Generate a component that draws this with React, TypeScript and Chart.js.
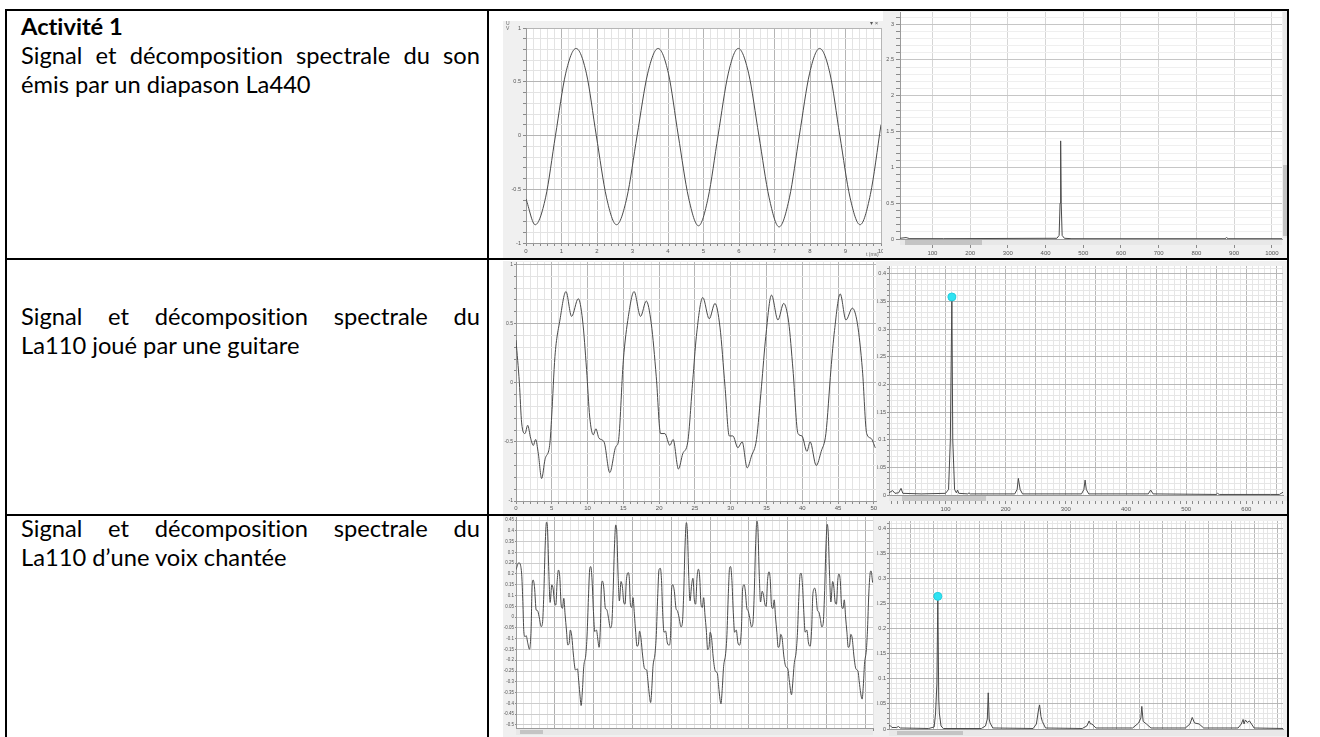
import React, { useEffect, useRef } from 'react';
import { Chart, registerables } from 'chart.js';
Chart.register(...registerables);

// ---------- Data ----------
// Row 1 : tuning fork La440, signal (t in ms, U in V)
const sineT = [0, 0.26, 0.55, 0.83, 1.12, 1.41, 1.7, 1.98, 2.27, 2.55, 2.84, 3.13, 3.43, 3.72, 4.01, 4.29, 4.58, 4.86, 5.13, 5.41, 5.7, 5.98, 6.27, 6.56, 6.85, 7.13, 7.42, 7.7, 7.99, 8.27, 8.56, 8.84, 9.13, 9.41, 9.7, 10.0];
const sineU = [-0.59, -0.83, -0.58, 0, 0.58, 0.81, 0.58, 0, -0.58, -0.83, -0.58, 0, 0.58, 0.81, 0.58, 0, -0.58, -0.84, -0.58, 0, 0.58, 0.81, 0.58, 0, -0.58, -0.85, -0.58, 0, 0.58, 0.81, 0.58, 0, -0.58, -0.83, -0.55, 0.1];
// Row 1 : spectrum (f in Hz, amplitude)
const fork440F = [14, 30, 40, 130, 430, 436, 438.5, 440, 441.5, 444, 450, 470, 876, 880, 884, 1027];
const fork440A = [0.01, 0.02, 0.005, 0.005, 0.01, 0.05, 0.5, 1.37, 0.5, 0.05, 0.01, 0.004, 0.004, 0.02, 0.004, 0.004];

// Row 2 : guitar La110, signal
const guitarT = [0, 0.47, 0.79, 1.26, 1.63, 2.05, 2.42, 2.74, 3.12, 3.58, 4.05, 4.74, 4.98, 5.44, 6.14, 6.98, 7.77, 8.7, 9.3, 9.86, 10.3, 10.8, 11.16, 11.6, 12.3, 13.1, 13.95, 14.3, 15.0, 15.7, 16.5, 17.4, 18.2, 18.9, 19.6, 20.2, 20.8, 21.5, 21.95, 22.7, 23.3, 24.0, 24.7, 25.2, 26.1, 27.0, 27.8, 28.5, 29.2, 29.8, 30.3, 31.0, 31.6, 32.3, 32.9, 33.6, 34.3, 34.9, 35.7, 36.6, 37.4, 38.1, 38.7, 39.4, 39.95, 40.65, 41.1, 41.95, 42.65, 43.3, 44.0, 44.5, 45.3, 46.1, 47.0, 47.7, 48.4, 49.0, 49.6, 50.2];
const guitarU = [0.36, 0, -0.34, -0.43, -0.36, -0.47, -0.53, -0.48, -0.6, -0.81, -0.65, -0.51, -0.29, 0.22, 0.53, 0.77, 0.56, 0.71, 0.53, 0.11, -0.29, -0.44, -0.39, -0.47, -0.5, -0.76, -0.54, -0.5, 0.19, 0.56, 0.77, 0.56, 0.69, 0.5, 0.05, -0.43, -0.43, -0.53, -0.48, -0.73, -0.6, -0.5, 0.02, 0.39, 0.72, 0.54, 0.67, 0.47, -0.03, -0.45, -0.45, -0.55, -0.5, -0.72, -0.62, -0.48, -0.03, 0.39, 0.74, 0.53, 0.67, 0.51, 0.11, -0.43, -0.45, -0.58, -0.5, -0.7, -0.58, -0.43, 0.11, 0.44, 0.75, 0.53, 0.63, 0.5, 0.11, -0.43, -0.47, -0.55];
// Row 2 : spectrum
const guitarF = [6, 12, 16, 22, 26, 29, 60, 100, 105, 108, 110.5, 112, 115, 118, 120, 122, 137, 139, 141, 215, 219, 221, 222, 224, 228, 326, 330, 332, 334, 338, 437, 441, 445, 550, 552, 555, 640, 655, 661];
const guitarA = [0.004, 0.008, 0.003, 0.004, 0.012, 0.003, 0.002, 0.003, 0.01, 0.1, 0.358, 0.1, 0.01, 0.004, 0.009, 0.003, 0.002, 0.004, 0.002, 0.002, 0.01, 0.03, 0.03, 0.01, 0.002, 0.002, 0.01, 0.027, 0.01, 0.002, 0.002, 0.009, 0.002, 0.001, 0.003, 0.001, 0.001, 0.001, 0.005];
const guitarPeakF = [110.5];
const guitarPeakA = [0.358];

// Row 3 : sung voice La110, signal
const voiceT = [0, 0.36, 0.58, 0.75, 0.88, 1.01, 1.18, 1.31, 1.52, 1.74, 1.95, 2.08, 2.21, 2.38, 2.6, 2.77, 2.98, 3.24, 3.41, 3.58, 3.76, 3.93, 4.06, 4.23, 4.4, 4.61, 4.79, 4.96, 5.13, 5.3, 5.47, 5.64, 5.82, 5.99, 6.16, 6.33, 6.5, 6.67, 6.85, 7.0, 7.19, 7.4, 7.66, 7.92, 8.09, 8.26, 8.39, 8.56, 8.73, 8.99, 9.16, 9.33, 9.51, 9.63, 9.8, 9.98, 10.15, 10.36, 10.58,
  10.7, 10.87, 11.0, 11.13, 11.3, 11.52, 11.69, 11.9, 12.16, 12.33, 12.5, 12.68, 12.85, 12.98, 13.15, 13.32, 13.53, 13.71, 13.88, 14.05, 14.22, 14.45, 14.6, 14.74, 14.91, 15.08, 15.25, 15.42, 15.59, 15.77, 15.92, 16.11, 16.32, 16.58, 16.84, 17.01, 17.18, 17.35, 17.5, 17.65, 17.91, 18.08, 18.25, 18.43, 18.6, 18.75, 18.9, 19.07, 19.28, 19.5, 19.75,
  19.95, 20.05, 20.2, 20.4, 20.62, 20.79, 21.0, 21.26, 21.43, 21.6, 21.78, 21.95, 22.08, 22.25, 22.42, 22.63, 22.8, 22.98, 23.15, 23.32, 23.5, 23.66, 23.84, 24.01, 24.18, 24.35, 24.52, 24.69, 24.87, 25.02, 25.21, 25.42, 25.68, 25.94, 26.11, 26.28, 26.41, 26.58, 26.75, 27.01, 27.18, 27.35, 27.53, 27.65, 27.82, 28.0, 28.17, 28.38, 28.6, 28.81,
  29.05, 29.2, 29.4, 29.55, 29.75, 29.9, 30.1, 30.35, 30.52, 30.69, 30.87, 31.04, 31.17, 31.34, 31.51, 31.72, 31.9, 32.07, 32.24, 32.41, 32.6, 32.75, 32.93, 33.1, 33.27, 33.44, 33.61, 33.78, 33.96, 34.11, 34.3, 34.51, 34.77, 35.03, 35.2, 35.37, 35.5, 35.67, 35.84, 36.1, 36.27, 36.44, 36.62, 36.74, 36.91, 37.09, 37.26, 37.47, 37.69, 37.9,
  38.1, 38.26, 38.5, 38.64, 38.85, 39.0, 39.2, 39.4, 39.58, 39.75, 39.93, 40.1, 40.23, 40.4, 40.57, 40.8, 40.95, 41.12, 41.29, 41.46, 41.6, 41.78, 41.96, 42.13, 42.3, 42.47, 42.64, 42.81, 42.99, 43.14, 43.33, 43.54, 43.8, 44.06, 44.23, 44.4, 44.6, 44.75, 44.9, 45.15, 45.3, 45.45, 45.62, 45.75, 45.95];
const voiceU = [0.22, 0.252, 0.241, 0.187, 0.072, -0.067, -0.091, -0.086, -0.121, -0.149, -0.052, 0.149, 0.172, 0.141, 0.033, 0.03, 0.002, -0.044, -0.029, 0.102, 0.334, 0.44, 0.411, 0.21, 0.068, 0.149, 0.13, 0.068, 0.056, 0.164, 0.218, 0.187, 0.056, 0.041, 0.087, 0.01, -0.06, -0.129, -0.121, -0.06, -0.09, -0.176, -0.245, -0.24, -0.3, -0.369, -0.41, -0.338, -0.23, -0.176, -0.083, 0.087, 0.226, 0.234, 0.172, 0.025, -0.067, -0.06, -0.114,
  -0.14, -0.05, 0.14, 0.167, 0.14, 0.04, 0.035, 0.0, -0.05, -0.035, 0.1, 0.32, 0.427, 0.4, 0.2, 0.075, 0.165, 0.14, 0.07, 0.06, 0.17, 0.206, 0.18, 0.06, 0.045, 0.09, 0.015, -0.07, -0.135, -0.125, -0.065, -0.1, -0.18, -0.24, -0.245, -0.3, -0.36, -0.396, -0.33, -0.23, -0.17, -0.08, 0.09, 0.22, 0.226, 0.17, 0.02, -0.07, -0.065, -0.12, -0.13,
  -0.05, 0.13, 0.15, 0.12, 0.04, 0.03, 0.0, -0.045, -0.03, 0.1, 0.33, 0.438, 0.4, 0.2, 0.075, 0.15, 0.18, 0.08, 0.06, 0.18, 0.222, 0.19, 0.06, 0.045, 0.09, 0.01, -0.06, -0.15, -0.14, -0.07, -0.1, -0.19, -0.25, -0.26, -0.32, -0.38, -0.402, -0.33, -0.23, -0.17, -0.08, 0.1, 0.23, 0.234, 0.17, 0.02, -0.07, -0.06, -0.12, -0.13,
  -0.05, 0.13, 0.15, 0.12, 0.04, 0.03, 0.0, -0.045, -0.03, 0.1, 0.33, 0.445, 0.41, 0.2, 0.07, 0.12, 0.1, 0.06, 0.05, 0.17, 0.21, 0.18, 0.05, 0.04, 0.08, 0.0, -0.07, -0.14, -0.13, -0.08, -0.1, -0.18, -0.23, -0.24, -0.29, -0.34, -0.36, -0.3, -0.22, -0.16, -0.07, 0.09, 0.2, 0.203, 0.15, 0.02, -0.07, -0.06, -0.12, -0.135,
  -0.05, 0.11, 0.134, 0.11, 0.03, 0.025, -0.005, -0.045, -0.03, 0.1, 0.32, 0.43, 0.39, 0.2, 0.07, 0.165, 0.14, 0.07, 0.06, 0.17, 0.2, 0.17, 0.05, 0.04, 0.08, 0.0, -0.07, -0.14, -0.13, -0.08, -0.1, -0.18, -0.24, -0.25, -0.3, -0.35, -0.38, -0.32, -0.22, -0.15, -0.05, 0.1, 0.2, 0.214, 0.16];
// Row 3 : spectrum
const voiceF = [3.5, 6, 10, 20, 24, 28, 90, 102, 105, 108, 110, 112, 113.5, 117, 122, 205, 214, 218, 220, 222, 224, 230, 318, 325, 330, 332, 335, 338, 345, 425, 435, 440, 443, 446, 455, 535, 548, 553, 555, 558, 565, 575, 650, 660, 665, 670, 680, 690, 765, 772, 776, 778, 781, 785, 790, 800, 863];
const voiceA = [0.006, 0.007, 0.003, 0.003, 0.005, 0.002, 0.001, 0.004, 0.03, 0.09, 0.264, 0.06, 0.03, 0.006, 0.001, 0.001, 0.006, 0.02, 0.072, 0.02, 0.012, 0.002, 0.001, 0.01, 0.04, 0.048, 0.025, 0.015, 0.002, 0.001, 0.006, 0.016, 0.01, 0.01, 0.002, 0.002, 0.012, 0.022, 0.045, 0.015, 0.01, 0.002, 0.002, 0.01, 0.023, 0.012, 0.01, 0.002, 0.002, 0.01, 0.019, 0.01, 0.018, 0.013, 0.016, 0.002, 0.001];
const voicePeakF = [110];
const voicePeakA = [0.264];

// Texts
const rowTexts = [
  { title: 'Activité 1', lines: ['Signal et décomposition spectrale du son', 'émis par un diapason La440'] },
  { title: '', lines: ['Signal et décomposition spectrale du', 'La110 joué par une guitare'] },
  { title: '', lines: ['Signal et décomposition spectrale du', 'La110 d\u2019une voix chantée'] },
];

// ---------- helpers ----------
const zip = (xs: number[], ys: number[]) => xs.map((x, i) => ({ x, y: ys[i] }));
const isMult = (v: number, m: number) => Math.abs(v / m - Math.round(v / m)) < 1e-6;
const fmt = (v: number) => String(Number(v.toFixed(3)));
const TICK_FONT = "'Liberation Sans', Arial, sans-serif";

type Axis = { min: number; max: number; step: number; major: number; label: number | null; minorC: string; majorC: string; tickLen: number; pad: number; fs: number };
type Spec = {
  box: { x: number; y: number; w: number; h: number };
  plot: { l: number; t: number; r: number; b: number };
  x: Axis; y: Axis;
  data: { x: number; y: number }[];
  smooth: boolean;
  marker?: { x: number; y: number }[];
};

const specs: Spec[] = [
  { // A: La440 signal
    box: { x: 503, y: 21, w: 380, h: 237 }, plot: { l: 526, t: 28, r: 881, b: 243 },
    x: { min: 0, max: 10, step: 0.2, major: 1, label: 1, minorC: '#e3e3e3', majorC: '#b5b5b5', tickLen: 3, pad: 2, fs: 6 },
    y: { min: -1, max: 1, step: 0.1, major: 0.5, label: 0.5, minorC: '#e3e3e3', majorC: '#b5b5b5', tickLen: 3, pad: 2, fs: 5.5 },
    data: zip(sineT, sineU), smooth: true,
  },
  { // B: La440 spectrum
    box: { x: 883, y: 11, w: 405, h: 248 }, plot: { l: 900, t: 12, r: 1282, b: 239 },
    x: { min: 14, max: 1027, step: 100, major: 100, label: 100, minorC: '#d6d6d6', majorC: '#d6d6d6', tickLen: 9, pad: 2, fs: 6 },
    y: { min: 0, max: 3.17, step: 0.1, major: 0.5, label: 0.5, minorC: '#efefef', majorC: '#c6c6c6', tickLen: 4, pad: 2, fs: 5.5 },
    data: zip(fork440F, fork440A), smooth: false,
  },
  { // C: guitar signal
    box: { x: 503, y: 261, w: 374, h: 253 }, plot: { l: 516, t: 262, r: 876, b: 501 },
    x: { min: 0, max: 50.3, step: 1, major: 5, label: 5, minorC: '#e3e3e3', majorC: '#b5b5b5', tickLen: 3, pad: 1, fs: 6 },
    y: { min: -1, max: 1.02, step: 0.1, major: 0.5, label: 0.5, minorC: '#e3e3e3', majorC: '#b5b5b5', tickLen: 2, pad: 1, fs: 5 },
    data: zip(guitarT, guitarU), smooth: true,
  },
  { // D: guitar spectrum
    box: { x: 877, y: 261, w: 411, h: 253 }, plot: { l: 889, t: 261, r: 1287, b: 495 },
    x: { min: 6, max: 661, step: 10, major: 50, label: 100, minorC: '#e6e6e6', majorC: '#b8b8b8', tickLen: 9, pad: 2, fs: 6 },
    y: { min: 0, max: 0.414, step: 0.01, major: 0.05, label: 0.05, minorC: '#e6e6e6', majorC: '#b8b8b8', tickLen: 2, pad: 1, fs: 5.5 },
    data: zip(guitarF, guitarA), smooth: false, marker: zip(guitarPeakF, guitarPeakA),
  },
  { // E: voice signal
    box: { x: 503, y: 516, w: 374, h: 221 }, plot: { l: 516, t: 517, r: 873, b: 728 },
    x: { min: 0, max: 46, step: 1, major: 5, label: null, minorC: '#e3e3e3', majorC: '#b0b0b0', tickLen: 3, pad: 1, fs: 5 },
    y: { min: -0.514, max: 0.464, step: 0.05, major: 0.05, label: 0.05, minorC: '#cdcdcd', majorC: '#cdcdcd', tickLen: 1, pad: 1, fs: 4.5 },
    data: zip(voiceT, voiceU), smooth: true,
  },
  { // F: voice spectrum
    box: { x: 877, y: 516, w: 411, h: 221 }, plot: { l: 889, t: 516, r: 1287, b: 729 },
    x: { min: 3.5, max: 863, step: 10, major: 50, label: null, minorC: '#e6e6e6', majorC: '#b8b8b8', tickLen: 3, pad: 1, fs: 5 },
    y: { min: 0, max: 0.414, step: 0.01, major: 0.05, label: 0.05, minorC: '#e6e6e6', majorC: '#b8b8b8', tickLen: 2, pad: 1, fs: 5.5 },
    data: zip(voiceF, voiceA), smooth: false, marker: zip(voicePeakF, voicePeakA),
  },
];

const plotBg = {
  id: 'plotBg',
  beforeDraw(chart: any) {
    const { ctx, chartArea } = chart;
    if (!chartArea) return;
    ctx.save();
    ctx.fillStyle = '#ffffff';
    ctx.fillRect(chartArea.left, chartArea.top, chartArea.right - chartArea.left, chartArea.bottom - chartArea.top);
    ctx.restore();
  },
};

function axisOpts(a: Axis, isX: boolean, s: Spec): any {
  return {
    type: 'linear',
    min: a.min,
    max: a.max,
    ticks: {
      stepSize: a.step,
      includeBounds: false,
      autoSkip: false,
      maxRotation: 0,
      minRotation: 0,
      padding: a.pad,
      color: '#555',
      font: { size: a.fs, family: TICK_FONT },
      callback: (v: number) => (a.label !== null && isMult(v, a.label) ? fmt(v) : ''),
    },
    grid: {
      color: (c: any) => (c.tick && isMult(c.tick.value, a.major) ? a.majorC : a.minorC),
      tickColor: '#8a8a8a',
      tickLength: a.tickLen,
      lineWidth: 1,
    },
    border: { display: true, color: '#9a9a9a' },
    afterFit: (sc: any) => {
      if (isX) {
        sc.height = s.box.y + s.box.h - s.plot.b;
        sc.paddingLeft = 0;
        sc.paddingRight = 0;
      } else {
        sc.width = s.plot.l - s.box.x;
        sc.paddingTop = 0;
        sc.paddingBottom = 0;
      }
    },
  };
}

function buildChart(canvas: HTMLCanvasElement, s: Spec) {
  const datasets: any[] = [
    {
      data: s.data,
      showLine: true,
      borderColor: '#4a4a4a',
      borderWidth: 1,
      pointRadius: 0,
      tension: s.smooth ? 0.4 : 0,
      cubicInterpolationMode: s.smooth ? 'monotone' : 'default',
      fill: false,
    },
  ];
  if (s.marker) {
    datasets.unshift({
      data: s.marker,
      showLine: false,
      pointRadius: 4,
      pointBackgroundColor: '#2fe3f2',
      pointBorderColor: '#22cfe0',
      pointBorderWidth: 1,
    });
  }
  return new Chart(canvas, {
    type: 'scatter',
    data: { datasets },
    options: {
      responsive: false,
      animation: false,
      events: [],
      layout: { padding: { left: 0, top: s.plot.t - s.box.y, right: s.box.x + s.box.w - s.plot.r, bottom: 0 } },
      plugins: { legend: { display: false }, tooltip: { enabled: false } },
      scales: { x: axisOpts(s.x, true, s), y: axisOpts(s.y, false, s) },
    } as any,
    plugins: [plotBg],
  });
}

const LEFT = 21;
const TEXT_W = 459;
const FS = 23.7;
const LH = 29;
// first-baseline of each row minus the font ascent
const rowTops = [12.3, 302.3, 514.3];

const abs = (l: number, t: number, w: number, h: number, bg: string): React.CSSProperties => ({ position: 'absolute', left: l, top: t, width: w, height: h, background: bg });

export default function App() {
  const refs = useRef<(HTMLCanvasElement | null)[]>([]);
  useEffect(() => {
    const charts = specs.map((s, i) => buildChart(refs.current[i] as HTMLCanvasElement, s));
    return () => charts.forEach((c) => c.destroy());
  }, []);

  const lineStyle = (justify: boolean): React.CSSProperties => ({
    height: LH,
    lineHeight: LH + 'px',
    whiteSpace: 'nowrap',
    display: justify ? 'flex' : 'block',
    justifyContent: 'space-between',
    width: TEXT_W,
  });

  return (
    <div style={{ position: 'fixed', left: 0, top: 0, width: 1320, height: 737, overflow: 'hidden', background: '#fff', fontFamily: "Lato, 'Open Sans', sans-serif", fontSize: FS, color: '#000', fontVariantLigatures: 'none', fontFeatureSettings: '"liga" 0, "clig" 0' }}>
      {/* left column texts */}
      {rowTexts.map((r, i) => {
        const lines: React.ReactNode[] = [];
        if (r.title) lines.push(<div key="t" style={{ ...lineStyle(false), fontWeight: 700 }}>{r.title}</div>);
        r.lines.forEach((ln, j) => {
          const justify = j === 0;
          lines.push(
            <div key={j} style={lineStyle(justify)}>
              {justify ? ln.split(' ').map((w, k) => <span key={k}>{w}</span>) : ln}
            </div>
          );
        });
        return (
          <div key={i} style={{ position: 'absolute', left: LEFT, top: rowTops[i], width: TEXT_W }}>
            {lines}
          </div>
        );
      })}

      {/* charts */}
      {specs.map((s, i) => (
        <div key={i} style={abs(s.box.x, s.box.y, s.box.w, s.box.h, '#f0f0f0')}>
          <canvas
            ref={(el) => { refs.current[i] = el; }}
            width={s.box.w}
            height={s.box.h}
            style={{ display: 'block', width: s.box.w, height: s.box.h }}
          />
        </div>
      ))}

      {/* chart decorations */}
      <div style={{ position: 'absolute', left: 506, top: 21, fontSize: 5, lineHeight: '5px', color: '#666', fontFamily: TICK_FONT }}>U<br />V</div>
      <div style={{ position: 'absolute', left: 870, top: 20, fontSize: 6, lineHeight: '6px', color: '#555', fontFamily: TICK_FONT }}>▾ ×</div>
      <div style={{ position: 'absolute', left: 866, top: 252, fontSize: 5, lineHeight: '5px', color: '#666', fontFamily: TICK_FONT }}>t (ms)</div>
      {/* scrollbars */}
      <div style={abs(900, 240, 382, 5, '#e8e8e8')} />
      <div style={abs(905, 240, 77, 5, '#c4c4c4')} />
      <div style={abs(1283, 12, 4, 226, '#e8e8e8')} />
      <div style={abs(1283, 165, 4, 71, '#c4c4c4')} />
      <div style={abs(889, 496, 398, 5, '#e8e8e8')} />
      <div style={abs(902, 496, 84, 5, '#c8c8c8')} />
      <div style={abs(516, 729, 357, 6, '#e8e8e8')} />
      <div style={abs(520, 730, 23, 4, '#c4c4c4')} />
      <div style={abs(889, 730, 398, 6, '#e8e8e8')} />
      <div style={abs(897, 731, 66, 4, '#c4c4c4')} />

      {/* table borders */}
      <div style={abs(5, 9, 1284, 2, '#000')} />
      <div style={abs(5, 258, 1284, 2, '#000')} />
      <div style={abs(5, 514, 1284, 2, '#000')} />
      <div style={abs(5, 9, 2, 740, '#000')} />
      <div style={abs(487, 9, 2, 740, '#000')} />
      <div style={abs(1287, 9, 2, 740, '#000')} />
    </div>
  );
}
